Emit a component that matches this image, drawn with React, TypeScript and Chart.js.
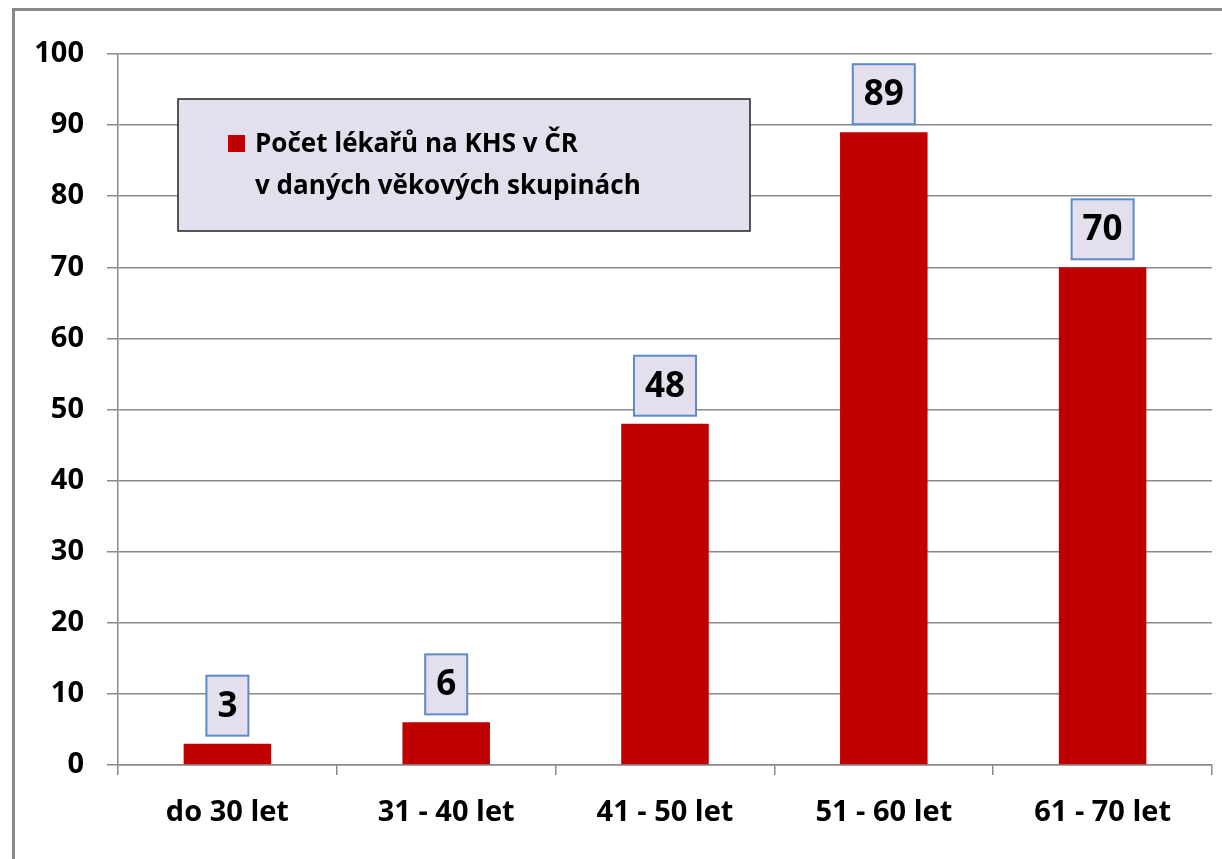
import React, { useEffect, useRef } from "react";
import { Chart, registerables } from "chart.js";

Chart.register(...registerables);

const categories = ["do 30 let", "31 - 40 let", "41 - 50 let", "51 - 60 let", "61 - 70 let"];
const counts = [3, 6, 48, 89, 70];
const legendLines = ["Počet lékařů na KHS v ČR", "v daných věkových skupinách"];
const yMin = 0;
const yMax = 100;
const yStep = 10;

const FONT = "'Open Sans', sans-serif";
const GRID = "#8a8a8a";
const BAR = "#C00000";
const BOX_FILL = "#E4DFEC";
const LABEL_BORDER = "#5B8BC9";

const dataLabelPlugin = {
  id: "boxedLabels",
  afterDatasetsDraw(chart: any) {
    const ctx = chart.ctx;
    const meta = chart.getDatasetMeta(0);
    const ds = chart.data.datasets[0];
    ctx.save();
    ctx.font = `bold 35px ${FONT}`;
    ctx.textAlign = "center";
    ctx.textBaseline = "middle";
    meta.data.forEach((bar: any, i: number) => {
      const txt = String(ds.data[i]);
      const tw = ctx.measureText(txt).width;
      const w = tw + 22;
      const h = 60;
      const x = bar.x - w / 2;
      const y = bar.y - 8 - h;
      ctx.fillStyle = BOX_FILL;
      ctx.fillRect(x, y, w, h);
      ctx.strokeStyle = LABEL_BORDER;
      ctx.lineWidth = 2;
      ctx.strokeRect(x, y, w, h);
      ctx.fillStyle = "#000";
      ctx.fillText(txt, bar.x, y + h / 2 + 1);
    });
    ctx.restore();
  },
};

const legendPlugin = {
  id: "boxLegend",
  afterDraw(chart: any) {
    const ctx = chart.ctx;
    const a = chart.chartArea;
    const x = a.left + 60;
    const y = a.top + 45;
    const w = 572;
    const h = 132;
    ctx.save();
    ctx.fillStyle = BOX_FILL;
    ctx.fillRect(x, y, w, h);
    ctx.strokeStyle = "#222";
    ctx.lineWidth = 1.5;
    ctx.strokeRect(x, y, w, h);
    ctx.fillStyle = BAR;
    ctx.fillRect(x + 50, y + 36, 17, 17);
    ctx.fillStyle = "#000";
    ctx.font = `bold 26px ${FONT}`;
    ctx.textAlign = "left";
    ctx.textBaseline = "middle";
    legendLines.forEach((line, i) => {
      ctx.fillText(line, x + 77, y + 46 + i * 42);
    });
    ctx.restore();
  },
};

export default function App() {
  const ref = useRef<HTMLCanvasElement | null>(null);
  useEffect(() => {
    if (!ref.current) return;
    const chart = new Chart(ref.current, {
      type: "bar",
      data: {
        labels: categories,
        datasets: [
          {
            label: legendLines.join(" "),
            data: counts,
            backgroundColor: BAR,
            barPercentage: 0.4,
            categoryPercentage: 1.0,
          },
        ],
      },
      options: {
        animation: false,
        responsive: false,
        devicePixelRatio: 1,
        layout: { padding: { left: 0, top: 54, right: 10, bottom: 0 } },
        plugins: {
          legend: { display: false },
          tooltip: { enabled: false },
        },
        scales: {
          x: {
            offset: true,
            grid: {
              display: true,
              drawOnChartArea: false,
              drawTicks: true,
              tickLength: 10,
              color: GRID,
              lineWidth: 1.5,
              offset: true,
            },
            border: { display: true, color: GRID, width: 1.5 },
            ticks: {
              color: "#000",
              font: { family: FONT, size: 29, weight: "bold" },
              padding: 20,
              maxRotation: 0,
            },
            afterFit(scale: any) {
              scale.height = 94;
            },
          },
          y: {
            min: yMin,
            max: yMax,
            ticks: {
              stepSize: yStep,
              color: "#000",
              font: { family: FONT, size: 29, weight: "bold" },
              padding: 23,
            },
            grid: {
              color: GRID,
              lineWidth: 1.5,
              tickLength: 11,
            },
            border: { display: true, color: GRID, width: 1.5 },
            afterFit(scale: any) {
              scale.width = 118;
            },
          },
        },
      },
      plugins: [dataLabelPlugin, legendPlugin],
    });
    return () => chart.destroy();
  }, []);
  return (
    <>
      <div
        style={{
          position: "fixed",
          left: 12,
          top: 8,
          width: 1400,
          height: 1000,
          border: "3px solid #898989",
          boxSizing: "border-box",
        }}
      />
      <canvas
        ref={ref}
        width={1222}
        height={859}
        style={{ position: "fixed", left: 0, top: 0, width: 1222, height: 859 }}
      />
    </>
  );
}
